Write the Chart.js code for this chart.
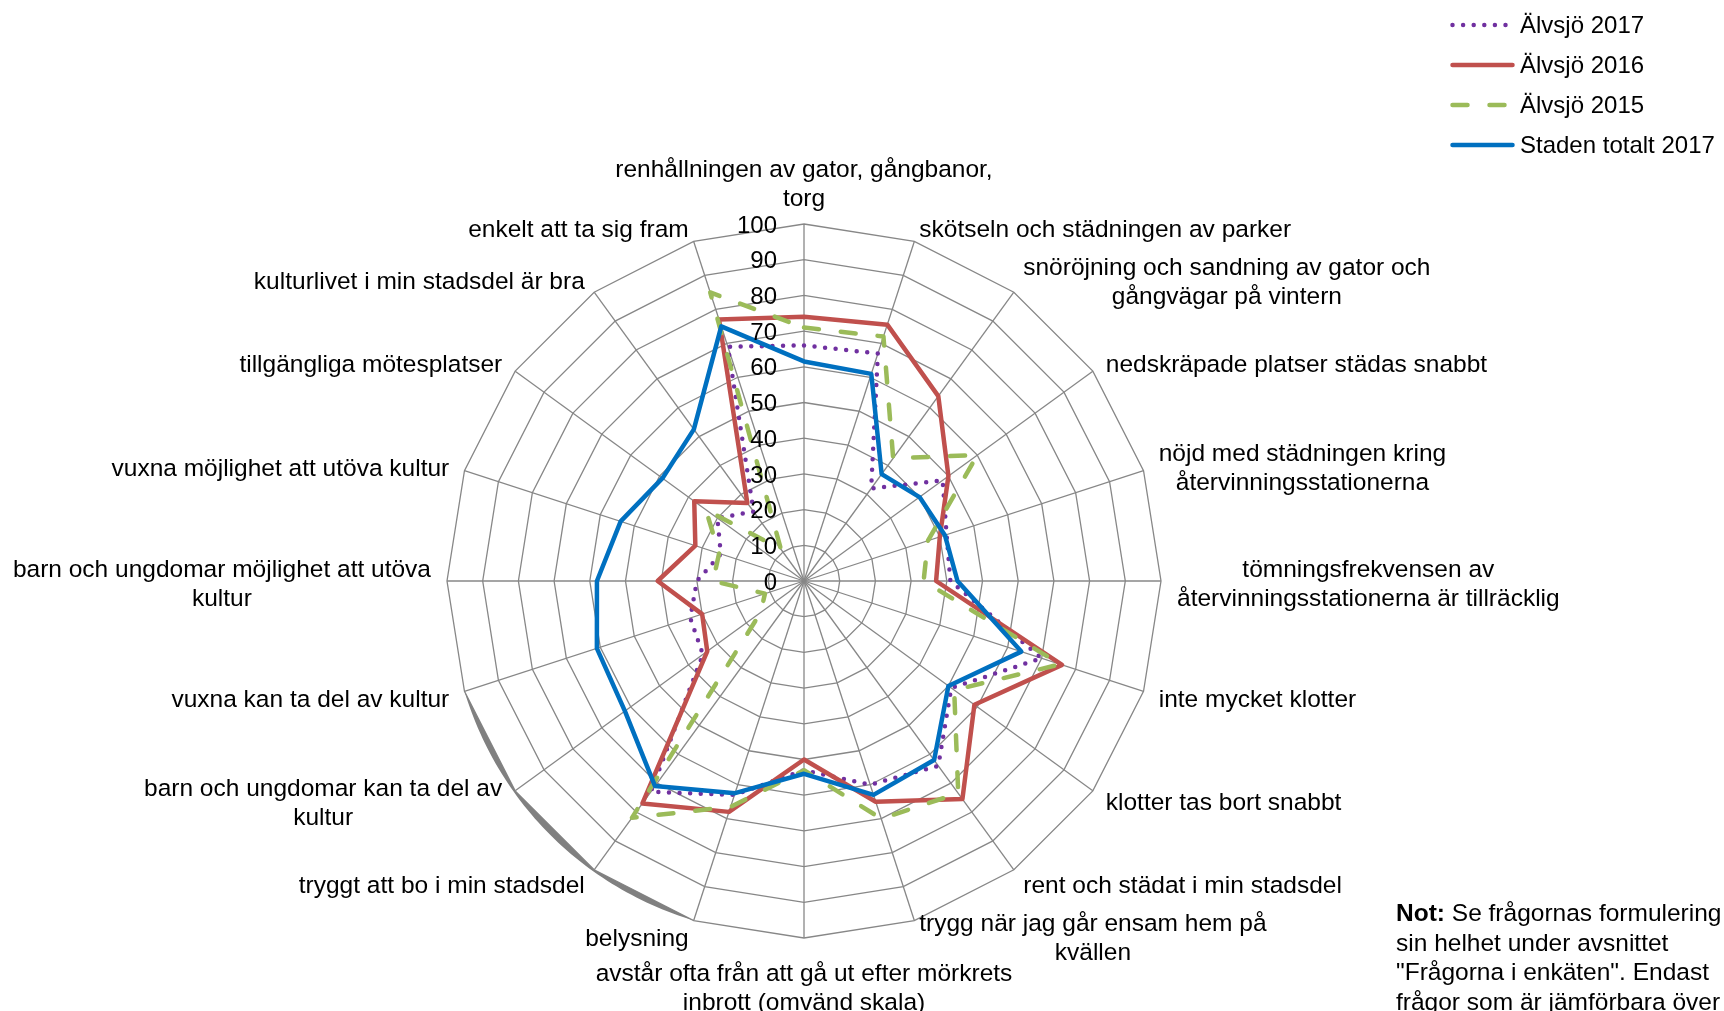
<!DOCTYPE html>
<html lang="sv">
<head>
<meta charset="utf-8">
<title>Älvsjö 2015–2017 jämfört med staden</title>
<script src="https://cdn.jsdelivr.net/npm/chart.js@4.4.1/dist/chart.umd.min.js"></script>
<style>
  html, body { margin: 0; padding: 0; background: #fff; overflow: hidden; }
  #wrap { position: relative; width: 1724px; height: 1011px; overflow: hidden; }
  #radar { position: absolute; left: 0; top: 0; }
  #note {
    position: absolute; left: 1396px; top: 898px; width: 372px;
    font: 24.5px/29.5px "Liberation Sans", Arial, sans-serif; color: #000;
    white-space: nowrap;
  }
</style>
</head>
<body>
<div id="wrap">
  <canvas id="radar" width="1724" height="1011"></canvas>
  <div id="note"><b>Not:</b> Se frågornas formulering i<br>sin helhet under avsnittet<br>"Frågorna i enkäten". Endast<br>frågor som är jämförbara över tid redovisas.</div>
</div>
<script>
// axis labels, clockwise from the top
const categories = [
  ['renhållningen av gator, gångbanor,', 'torg'],
  'skötseln och städningen av parker',
  ['snöröjning och sandning av gator och', 'gångvägar på vintern'],
  'nedskräpade platser städas snabbt',
  ['nöjd med städningen kring', 'återvinningsstationerna'],
  ['tömningsfrekvensen av', 'återvinningsstationerna är tillräcklig'],
  'inte mycket klotter',
  'klotter tas bort snabbt',
  'rent och städat i min stadsdel',
  ['trygg när jag går ensam hem på', 'kvällen'],
  ['avstår ofta från att gå ut efter mörkrets', 'inbrott (omvänd skala)'],
  'belysning',
  'tryggt att bo i min stadsdel',
  ['barn och ungdomar kan ta del av', 'kultur'],
  'vuxna kan ta del av kultur',
  ['barn och ungdomar möjlighet att utöva', 'kultur'],
  'vuxna möjlighet att utöva kultur',
  'tillgängliga mötesplatser',
  'kulturlivet i min stadsdel är bra',
  'enkelt att ta sig fram'
];

const alvsjo2017 = [66, 67, 32, 48, 42, 41, 70, 51, 64, 60, 53, 63, 73, 35, 33.5, 30, 24.5, 30, 24, 69];
const alvsjo2016 = [74, 75.5, 64, 50, 40, 37, 76, 59, 75.5, 65, 50, 68, 77, 33.5, 30, 41, 32, 38, 27, 77];
const alvsjo2015 = [71, 72, 42.5, 60, 36.5, 33.5, 75.5, 52, 73.5, 70, 53, 66.5, 82, 15, 11.5, 25.5, 25, 34, 11, 85];
const stadenTotalt2017 = [61.5, 61, 37, 40, 41.5, 43, 64, 50, 62, 63, 54, 62.5, 71, 62, 61, 58, 54, 49, 52.5, 75];

const seriesNames = ['Älvsjö 2017', 'Älvsjö 2016', 'Älvsjö 2015', 'Staden totalt 2017'];
const tickValues = [0, 10, 20, 30, 40, 50, 60, 70, 80, 90, 100];

const FONT = '"Liberation Sans", Arial, sans-serif';

// tick labels, axis labels, legend and the grey rim are painted here
const radarExtras = {
  id: 'radarExtras',
  beforeDatasetsDraw(chart) {
    // grey rim outside the ring, from "vuxna kan ta del av kultur" to "belysning"
    const r = chart.scales.r;
    const ctx = chart.ctx;
    const R = r.drawingArea;
    const n = categories.length;
    const from = 14, to = 11;
    const a0 = from * 2 * Math.PI / n, a1 = to * 2 * Math.PI / n;
    ctx.save();
    ctx.beginPath();
    for (let s = 0; s <= 60; s++) {
      const t = s / 60;
      const a = a0 + (a1 - a0) * t;
      const d = R + 2 * Math.sin(Math.PI * t);
      ctx.lineTo(r.xCenter + d * Math.sin(a), r.yCenter - d * Math.cos(a));
    }
    for (let i = to; i <= from; i++) {
      const p = r.getPointPosition(i, R);
      ctx.lineTo(p.x, p.y);
    }
    ctx.closePath();
    ctx.fillStyle = '#808080';
    ctx.fill();
    ctx.restore();
  },
  afterDraw(chart) {
    const r = chart.scales.r;
    const ctx = chart.ctx;
    ctx.save();
    ctx.fillStyle = '#000';

    // scale numbers left of the vertical axis
    ctx.font = '24px ' + FONT;
    ctx.textAlign = 'right';
    ctx.textBaseline = 'middle';
    tickValues.forEach(v => {
      ctx.fillText(String(v), r.xCenter - 27, r.yCenter - r.getDistanceFromCenterForValue(v) + 2);
    });

    // axis labels, lines centred inside their box
    ctx.font = '24.5px ' + FONT;
    ctx.textAlign = 'center';
    const lh = 29;
    categories.forEach((lab, i) => {
      const lines = Array.isArray(lab) ? lab : [lab];
      const w = Math.max(...lines.map(l => ctx.measureText(l).width));
      const h = lines.length * lh;
      const p = r.getPointPosition(i, r.drawingArea + 16);
      const deg = Math.round(i * 360 / categories.length);
      let cx, top;
      if (deg === 0) { cx = p.x; top = p.y - h + 2; }
      else if (deg === 180) { cx = p.x; top = p.y + 2; }
      else { cx = deg < 180 ? p.x + w / 2 : p.x - w / 2; top = p.y - h / 2; }
      lines.forEach((l, k) => ctx.fillText(l, cx, top + lh * k + lh / 2 + 3.5));
    });

    // legend top right
    const lx = 1452.5, ly = 25, gap = 40;
    ctx.textAlign = 'left';
    ctx.font = '24px ' + FONT;
    chart.data.datasets.forEach((ds, k) => {
      const y = ly + k * gap;
      ctx.beginPath();
      ctx.strokeStyle = ds.borderColor;
      ctx.lineWidth = ds.borderWidth;
      ctx.lineCap = 'round';
      ctx.setLineDash(ds.borderDash || []);
      ctx.moveTo(lx, y);
      ctx.lineTo(lx + (ds.borderDash && ds.borderDash[0] === 0 ? 55 : 60), y);
      ctx.stroke();
      ctx.setLineDash([]);
      ctx.fillText(ds.label, 1520, y + 1.5);
    });
    ctx.restore();
  }
};

const ctx = document.getElementById('radar').getContext('2d');
const chart = new Chart(ctx, {
  type: 'radar',
  data: {
    labels: categories,
    datasets: [
      {
        label: seriesNames[0], data: alvsjo2017, borderColor: '#7030A0',
        borderWidth: 4.5, borderDash: [0, 10.6], borderCapStyle: 'round', order: 4
      },
      {
        label: seriesNames[1], data: alvsjo2016, borderColor: '#C0504D',
        borderWidth: 4.5, order: 3
      },
      {
        label: seriesNames[2], data: alvsjo2015, borderColor: '#9BBB59',
        borderWidth: 4.5, borderDash: [15, 22], borderCapStyle: 'round', order: 2
      },
      {
        label: seriesNames[3], data: stadenTotalt2017, borderColor: '#0070C0',
        borderWidth: 4.5, order: 1
      }
    ]
  },
  options: {
    responsive: false,
    animation: false,
    events: [],
    devicePixelRatio: 1,
    layout: { padding: { left: 304, right: 420, top: 224, bottom: 73 } },
    elements: {
      line: { fill: false, tension: 0, borderJoinStyle: 'round', backgroundColor: 'transparent' },
      point: { radius: 0, hoverRadius: 0 }
    },
    scales: {
      r: {
        min: 0,
        max: 100,
        ticks: { stepSize: 10, display: false },
        grid: { circular: false, color: '#878787', lineWidth: 1.3 },
        angleLines: { color: '#878787', lineWidth: 1.3 },
        pointLabels: { display: false }
      }
    },
    plugins: {
      legend: { display: false },
      tooltip: { enabled: false }
    }
  },
  plugins: [radarExtras]
});
</script>
</body>
</html>
